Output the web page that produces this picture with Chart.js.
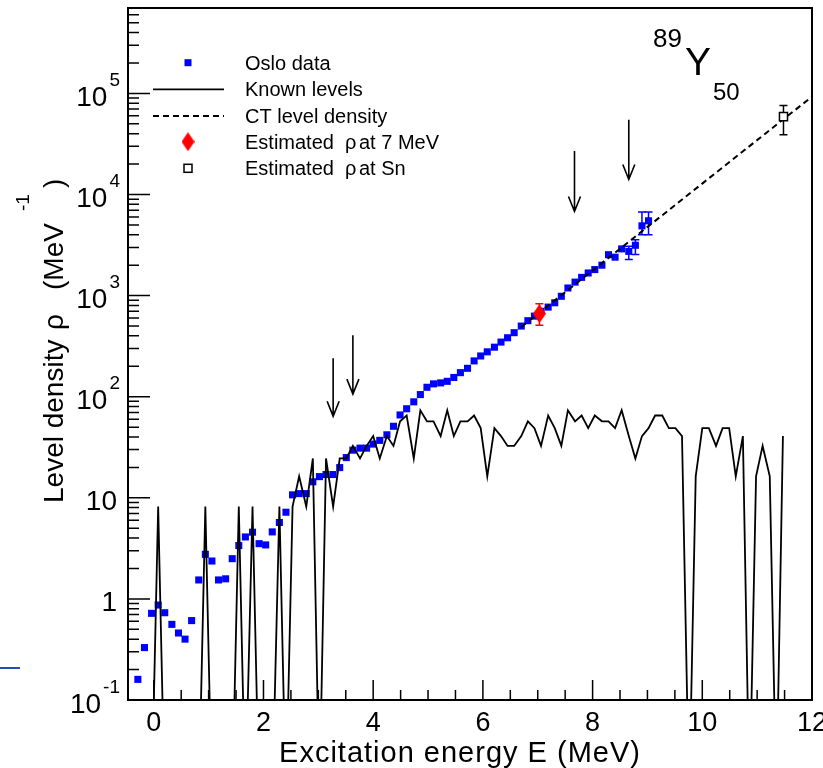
<!DOCTYPE html>
<html>
<head>
<meta charset="utf-8">
<script src="https://cdn.jsdelivr.net/npm/chart.js@4.4.0/dist/chart.umd.min.js"></script>
<style>
  html, body { margin: 0; padding: 0; background: #fff; }
  #wrap { width: 823px; height: 768px; position: relative; }
</style>
</head>
<body>
<div id="wrap"><canvas id="levelDensityChart"></canvas></div>
<script>
// bin centres (MeV), 0.123 MeV bins
const binEnergies = [
    -0.29, -0.17, -0.04, 0.08, 0.20, 0.33, 0.45, 0.57, 0.69, 0.82,
    0.94, 1.06, 1.18, 1.31, 1.43, 1.55, 1.67, 1.80, 1.92, 2.04,
    2.16, 2.29, 2.41, 2.53, 2.65, 2.78, 2.90, 3.02, 3.14, 3.27,
    3.39, 3.51, 3.63, 3.76, 3.88, 4.00, 4.12, 4.25, 4.37, 4.49,
    4.61, 4.74, 4.86, 4.98, 5.10, 5.23, 5.35, 5.47, 5.59, 5.72,
    5.84, 5.96, 6.08, 6.21, 6.33, 6.45, 6.57, 6.70, 6.82, 6.94,
    7.06, 7.19, 7.31, 7.43, 7.55, 7.68, 7.80, 7.92, 8.04, 8.17,
    8.29, 8.41, 8.53, 8.66, 8.78, 8.90, 9.02, 9.14, 9.27, 9.39,
    9.51, 9.63, 9.76, 9.88, 10.00, 10.12, 10.25, 10.37, 10.49, 10.61,
    10.74, 10.86, 10.98, 11.10, 11.23, 11.35, 11.47
];

// Oslo data, rho (1/MeV), first 77 bins
const osloRho = [
    0.16, 0.33, 0.72, 0.87, 0.73, 0.56, 0.46, 0.40, 0.61, 1.54,
    2.76, 2.37, 1.54, 1.58, 2.5, 3.37, 4.1, 4.57, 3.52, 3.42,
    4.6, 5.7, 7.2, 10.7, 11.0, 11.0, 14.4, 16.2, 17, 17,
    19.9, 25, 29.6, 31, 31, 34, 37, 42, 51, 66,
    76, 89, 105, 124, 134, 137, 142, 155, 173, 191,
    226, 253, 278, 309, 347, 383, 430, 500, 565, 627,
    700, 770, 850, 985, 1190, 1360, 1515, 1675, 1810, 2000,
    2540, 2400, 2900, 2740, 3150, 4900, 5500
];
// error bars on the last Oslo points: [bin index, low, high]
const osloErrors = [
    [73, 2280, 3080],
    [74, 2550, 3580],
    [75, 4000, 6700],
    [76, 4000, 6700]
];

// known discrete levels, rho (1/MeV); 0 = empty bin
const knownLevels = [
    0, 0, 0, 8.2, 0, 0, 0, 0, 0, 0,
    8.2, 0, 0, 0, 0, 8.2, 0, 8.2, 0, 0,
    0, 8.2, 0, 8.2, 16.3, 8.2, 24.5, 0, 24.5, 8.2,
    24.5, 24.5, 32.6, 24.5, 32.6, 40.8, 24.5, 40.8, 32.6, 57.1,
    65.2, 24.5, 73.4, 57.1, 57.1, 40.8, 73.4, 40.8, 57.1, 57.1,
    65.2, 48.9, 16.3, 48.9, 40.8, 32.6, 32.6, 40.8, 57.1, 48.9,
    32.6, 65.2, 48.9, 32.6, 73.4, 57.1, 65.2, 48.9, 65.2, 57.1,
    57.1, 48.9, 73.4, 40.8, 24.5, 40.8, 48.9, 65.2, 65.2, 48.9,
    48.9, 40.8, 0, 16.3, 48.9, 48.9, 32.6, 48.9, 48.9, 16.3,
    40.8, 0, 16.3, 32.6, 16.3, 0, 40.8
];

// constant temperature level density (straight line in log scale)
const ctEnergy = [6.70, 12.0];
const ctRho = [490, 93000];

// estimated rho at 7 MeV and at Sn
const est7 = { e: 7.03, rho: 663, lo: 510, hi: 830 };
const estSn = { e: 11.48, rho: 59000, lo: 39000, hi: 76000 };

// arrows
const arrowE = [3.27, 3.63, 7.67, 8.66];
const arrowTop = [240, 405, 27000, 55000];
const arrowTip = [64, 106, 6800, 14100];

const yDecades = [-1, 0, 1, 2, 3, 4, 5];
const xLabels = [0, 2, 4, 6, 8, 10, 12];

const FONT = '"Liberation Sans", Arial, Helvetica, sans-serif';

// ROOT puts empty bins far below the axis
const EMPTY_BIN = 0.01;

// elongated red diamond marker
function makeDiamond(w, h, color) {
    const c = document.createElement('canvas');
    c.width = w; c.height = h;
    const g = c.getContext('2d');
    g.fillStyle = color;
    g.beginPath();
    g.moveTo(w / 2, 0); g.lineTo(w, h / 2); g.lineTo(w / 2, h); g.lineTo(0, h / 2);
    g.closePath();
    g.fill();
    return c;
}
const diamond = makeDiamond(13, 19, '#ff0000');

function errBar(ctx, xs, ys, e, lo, hi, color) {
    const px = xs.getPixelForValue(e);
    const p1 = ys.getPixelForValue(lo), p2 = ys.getPixelForValue(hi);
    ctx.strokeStyle = color;
    ctx.lineWidth = 1.5;
    ctx.beginPath();
    ctx.moveTo(px, p1); ctx.lineTo(px, p2);
    ctx.moveTo(px - 4, p1); ctx.lineTo(px + 4, p1);
    ctx.moveTo(px - 4, p2); ctx.lineTo(px + 4, p2);
    ctx.stroke();
}

const errorBars = {
    id: 'errorBars',
    beforeDatasetsDraw(chart) {
        const { ctx, scales: { x, y } } = chart;
        ctx.save();
        osloErrors.forEach(([i, lo, hi]) => errBar(ctx, x, y, binEnergies[i], lo, hi, '#0000ff'));
        errBar(ctx, x, y, est7.e, est7.lo, est7.hi, '#ff0000');
        errBar(ctx, x, y, estSn.e, estSn.lo, estSn.hi, '#000000');
        ctx.restore();
    }
};

const axesFrame = {
    id: 'axesFrame',
    afterDraw(chart) {
        const { ctx, chartArea: a, scales: { x, y } } = chart;
        ctx.save();
        ctx.strokeStyle = '#000';
        ctx.fillStyle = '#000';

        // inward ticks
        ctx.lineWidth = 1.5;
        ctx.beginPath();
        for (let v = 0; v <= 12; v += 0.5) {
            const px = x.getPixelForValue(v);
            const len = (v % 2 === 0) ? 20 : 10;
            ctx.moveTo(px, a.bottom); ctx.lineTo(px, a.bottom - len);
        }
        for (let d = -1; d <= 5; d++) {
            for (let m = 1; m <= 9; m++) {
                const val = m * Math.pow(10, d);
                if (val > y.max) break;
                const py = y.getPixelForValue(val);
                const len = m === 1 ? 22 : 11;
                ctx.moveTo(a.left, py); ctx.lineTo(a.left + len, py);
            }
        }
        ctx.stroke();

        ctx.lineWidth = 2;
        ctx.strokeRect(a.left, a.top, a.right - a.left, a.bottom - a.top);

        // x tick labels
        ctx.font = '27px ' + FONT;
        ctx.textAlign = 'center';
        ctx.textBaseline = 'alphabetic';
        xLabels.forEach(v => ctx.fillText(String(v), x.getPixelForValue(v), 731));

        // y tick labels
        yDecades.forEach(d => {
            const py = y.getPixelForValue(Math.pow(10, d));
            if (d === 0 || d === 1) {
                ctx.font = '28px ' + FONT;
                ctx.textAlign = 'right';
                ctx.fillText(d === 0 ? '1' : '10', 117, py + 12.5);
            } else {
                const sup = String(d);
                ctx.font = '19px ' + FONT;
                const sw = ctx.measureText(sup).width;
                ctx.textAlign = 'right';
                ctx.fillText(sup, 120, py - 7.5);
                ctx.font = '28px ' + FONT;
                ctx.fillText('10', 120 - sw - 2, py + 12.5);
            }
        });

        // x title
        ctx.font = '29px ' + FONT;
        ctx.letterSpacing = '1px';
        ctx.textAlign = 'center';
        ctx.fillText('Excitation energy E (MeV)', 460, 762);
        ctx.letterSpacing = '0px';

        // y title, rotated
        ctx.save();
        ctx.translate(63, 503);
        ctx.rotate(-Math.PI / 2);
        ctx.textAlign = 'left';
        ctx.font = '28px ' + FONT;
        ctx.fillText('Level density', 0, 0);
        ctx.fillText('\u03c1', 173, 0);
        ctx.fillText('(MeV', 213, 0);
        ctx.font = '19px ' + FONT;
        ctx.fillText('-1', 292, -34);
        ctx.font = '28px ' + FONT;
        ctx.fillText(')', 315, 0);
        ctx.restore();

        ctx.restore();
    }
};

const annotations = {
    id: 'annotations',
    afterDraw(chart) {
        const { ctx, scales: { x, y } } = chart;
        ctx.save();
        ctx.strokeStyle = '#000';
        ctx.fillStyle = '#000';
        ctx.lineWidth = 1.6;
        arrowE.forEach((e, i) => {
            const px = x.getPixelForValue(e);
            const top = y.getPixelForValue(arrowTop[i]);
            const tip = y.getPixelForValue(arrowTip[i]);
            ctx.beginPath();
            ctx.moveTo(px, top); ctx.lineTo(px, tip);
            ctx.moveTo(px - 6, tip - 15); ctx.lineTo(px, tip); ctx.lineTo(px + 6, tip - 15);
            ctx.stroke();
        });

        // nucleus label
        ctx.textAlign = 'left';
        ctx.textBaseline = 'alphabetic';
        ctx.font = '26px ' + FONT;
        ctx.fillText('89', 653, 47);
        ctx.font = '39px ' + FONT;
        ctx.fillText('Y', 685, 75);
        ctx.font = '24px ' + FONT;
        ctx.fillText('50', 713, 100);

        // legend
        const rows = [62.7, 89.3, 116, 141.7, 168.3];
        const tx = 245, mx = 188;
        ctx.fillStyle = '#0000ff';
        ctx.fillRect(mx - 3.5, rows[0] - 3.5, 7, 7);
        ctx.strokeStyle = '#000';
        ctx.lineWidth = 1.8;
        ctx.beginPath(); ctx.moveTo(153, rows[1]); ctx.lineTo(224, rows[1]); ctx.stroke();
        ctx.setLineDash([6, 4]);
        ctx.beginPath(); ctx.moveTo(153, rows[2]); ctx.lineTo(224, rows[2]); ctx.stroke();
        ctx.setLineDash([]);
        ctx.drawImage(diamond, mx - 6.5, rows[3] - 9.5);
        ctx.lineWidth = 1.5;
        ctx.strokeRect(mx - 4, rows[4] - 4, 8, 8);

        ctx.fillStyle = '#000';
        ctx.font = '20px ' + FONT;
        ctx.fillText('Oslo data', tx, rows[0] + 7);
        ctx.fillText('Known levels', tx, rows[1] + 7);
        ctx.fillText('CT level density', tx, rows[2] + 7);
        ctx.fillText('Estimated', tx, rows[3] + 7);
        ctx.fillText('\u03c1', 345, rows[3] + 7);
        ctx.fillText('at 7 MeV', 359, rows[3] + 7);
        ctx.fillText('Estimated', tx, rows[4] + 7);
        ctx.fillText('\u03c1', 345, rows[4] + 7);
        ctx.fillText('at Sn', 359, rows[4] + 7);

        // stray blue rule at the left edge of the source figure
        ctx.strokeStyle = '#2150b5';
        ctx.lineWidth = 2;
        ctx.beginPath(); ctx.moveTo(0, 668); ctx.lineTo(20, 668); ctx.stroke();
        ctx.restore();
    }
};

const osloPoints = osloRho.map((r, i) => ({ x: binEnergies[i], y: r }));
const knownPoints = knownLevels.map((r, i) => ({ x: binEnergies[i], y: r === 0 ? EMPTY_BIN : r }));
const ctPoints = ctEnergy.map((e, i) => ({ x: e, y: ctRho[i] }));

new Chart(document.getElementById('levelDensityChart').getContext('2d'), {
    type: 'scatter',
    data: {
        datasets: [
            {
                label: 'Estimated rho at 7 MeV',
                data: [{ x: est7.e, y: est7.rho }],
                pointStyle: diamond,
                order: -1
            },
            {
                label: 'Estimated rho at Sn',
                data: [{ x: estSn.e, y: estSn.rho }],
                pointStyle: 'rect',
                pointRadius: 5.7,
                backgroundColor: '#ffffff',
                borderColor: '#000000',
                borderWidth: 1.5,
                order: -1
            },
            {
                label: 'Known levels',
                type: 'line',
                data: knownPoints,
                borderColor: '#000000',
                borderWidth: 1.8,
                pointRadius: 0,
                tension: 0,
                fill: false,
                order: 0
            },
            {
                label: 'CT level density',
                type: 'line',
                data: ctPoints,
                borderColor: '#000000',
                borderWidth: 2,
                borderDash: [6, 4],
                pointRadius: 0,
                fill: false,
                order: 0
            },
            {
                label: 'Oslo data',
                data: osloPoints,
                pointStyle: 'rect',
                pointRadius: 5,
                backgroundColor: '#0000ff',
                borderWidth: 0,
                order: 1
            }
        ]
    },
    options: {
        responsive: true,
        maintainAspectRatio: false,
        animation: false,
        layout: { padding: { left: 128, right: 11, top: 8, bottom: 68 } },
        plugins: { legend: { display: false }, tooltip: { enabled: false } },
        scales: {
            x: { type: 'linear', min: -0.47, max: 12, display: false },
            y: { type: 'logarithmic', min: 0.1, max: 7.0e5, display: false }
        }
    },
    plugins: [errorBars, axesFrame, annotations]
});
</script>
</body>
</html>
